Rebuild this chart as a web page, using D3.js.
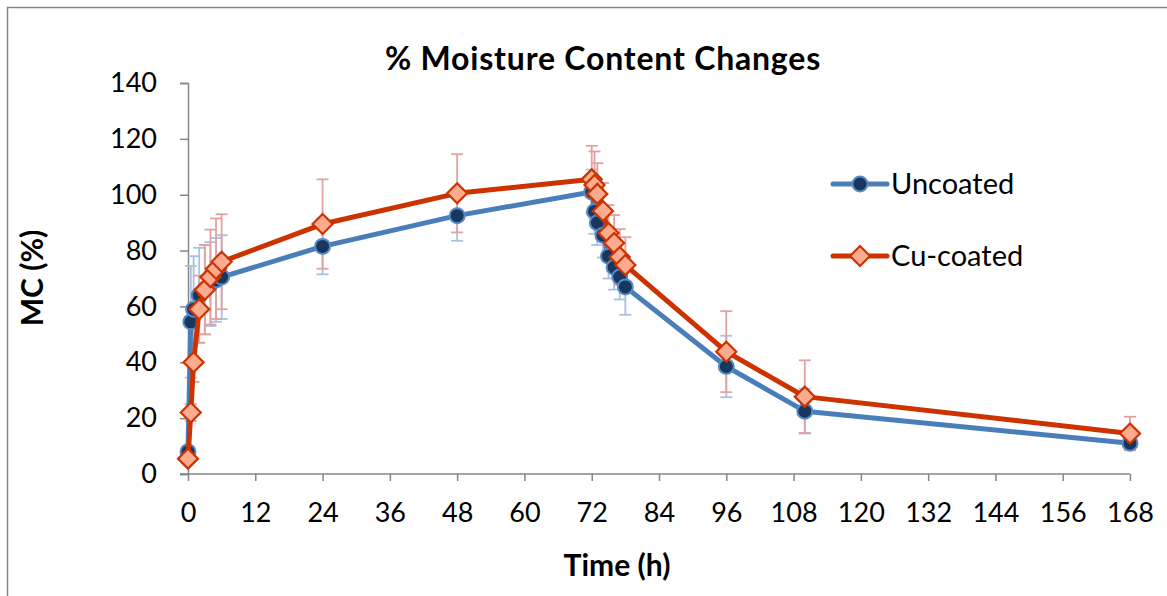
<!DOCTYPE html>
<html>
<head>
<meta charset="utf-8">
<script src="https://cdn.jsdelivr.net/npm/d3@7"></script>
<style>
  body { margin: 0; background: #fff; }
  svg { display: block; font-family: Lato, "Open Sans", sans-serif; }
</style>
</head>
<body>
<div id="chart"></div>
<script>
// time (h) for each point
const times = [0, 0.5, 1, 2, 3, 4, 5, 6, 24, 48, 72, 72.5, 73, 74, 75, 76, 77, 78, 96, 110, 168];
// % moisture content
const uncoated = [8, 54.5, 59, 64, 66, 68, 69.5, 70.5, 81.5, 92.5, 101, 94, 90, 85.5, 78, 74, 70.5, 67, 38.5, 22.5, 11];
const uncoatedErr = [1, 20, 19, 17, 16, 15, 15, 15, 10, 9, 8, 8, 8, 8, 8, 8, 8, 10, 11, 8, 1];
const cuCoated = [5.5, 22, 40, 59, 66, 70.5, 73.5, 76, 89.5, 100.5, 105.5, 103.5, 100.3, 94.2, 86.3, 82.7, 77.7, 74.8, 43.8, 27.7, 14.5];
const cuCoatedErr = [1, 3, 7, 12, 16, 17, 18, 17, 16, 14, 12, 12, 11, 10, 10, 10, 10, 10, 14.5, 13, 6];
const xTicks = [0, 12, 24, 36, 48, 60, 72, 84, 96, 108, 120, 132, 144, 156, 168];
const yTicks = [0, 20, 40, 60, 80, 100, 120, 140];

const W = 1167, H = 596;
const svg = d3.select('#chart').append('svg').attr('width', W).attr('height', H);

svg.append('rect')
   .attr('x', 7.5).attr('y', 7.5)
   .attr('width', 1300).attr('height', 800)
   .attr('fill', 'none').attr('stroke', '#868686').attr('stroke-width', 1.5);

const x = d3.scaleLinear().domain([0, 168]).range([188, 1130]);
const y = d3.scaleLinear().domain([0, 140]).range([474, 83]);

// axes
const gx = svg.append('g')
   .attr('transform', `translate(0, ${y(0)})`)
   .call(d3.axisBottom(x).tickValues(xTicks).tickSize(7).tickPadding(22).tickFormat(d3.format('d')));
const gy = svg.append('g')
   .attr('transform', `translate(${x(0)}, 0)`)
   .call(d3.axisLeft(y).tickValues(yTicks).tickSize(8).tickPadding(23).tickFormat(d3.format('d')));

[gx, gy].forEach(g => {
  g.select('.domain').attr('stroke', '#868686').attr('stroke-width', 1.5);
  g.selectAll('.tick line').attr('stroke', '#868686').attr('stroke-width', 1.5);
  g.selectAll('.tick text').attr('fill', '#000')
   .style('font-family', 'Lato, "Open Sans", sans-serif').style('font-size', '27px');
});
// x axis line starts at the y=0 tick
gx.select('.domain').attr('d', `M${x(0) - 8},0H${x(168)}`);

const series = [
  { name: 'Uncoated', vals: uncoated, err: uncoatedErr, line: '#4a7ebb', errColor: '#a9c1df',
    fill: '#17375e', stroke: '#5a8ac6', shape: 'circle' },
  { name: 'Cu-coated', vals: cuCoated, err: cuCoatedErr, line: '#cc3300', errColor: '#e3a2a2',
    fill: '#fdab8e', stroke: '#cc3300', shape: 'diamond' }
];

// error bars
series.forEach(s => {
  const g = svg.append('g').attr('stroke', s.errColor).attr('stroke-width', 1.8);
  times.forEach((t, i) => {
    const cx = x(t), top = y(s.vals[i] + s.err[i]), bot = y(s.vals[i] - s.err[i]);
    g.append('line').attr('x1', cx).attr('x2', cx).attr('y1', top).attr('y2', bot);
    g.append('line').attr('x1', cx - 6).attr('x2', cx + 6).attr('y1', top).attr('y2', top);
    g.append('line').attr('x1', cx - 6).attr('x2', cx + 6).attr('y1', bot).attr('y2', bot);
  });
});

const diamond = 'M0,-10L10,0L0,10L-10,0Z';

function marker(g, s, cx, cy) {
  if (s.shape === 'circle') {
    g.append('circle').attr('cx', cx).attr('cy', cy).attr('r', 7.5)
     .attr('fill', s.fill).attr('stroke', s.stroke).attr('stroke-width', 2);
  } else {
    g.append('path').attr('d', diamond).attr('transform', `translate(${cx},${cy})`)
     .attr('fill', s.fill).attr('stroke', s.stroke).attr('stroke-width', 2.2);
  }
}

// lines and markers
series.forEach(s => {
  const line = d3.line().x((d, i) => x(times[i])).y(d => y(d));
  svg.append('path').datum(s.vals).attr('d', line)
     .attr('fill', 'none').attr('stroke', s.line).attr('stroke-width', 5)
     .attr('stroke-linejoin', 'round');
  const g = svg.append('g');
  s.vals.forEach((v, i) => marker(g, s, x(times[i]), y(v)));
});

// legend
const legendY = [184, 256];
series.forEach((s, i) => {
  const ly = legendY[i];
  svg.append('line').attr('x1', 833).attr('x2', 887).attr('y1', ly).attr('y2', ly)
     .attr('stroke', s.line).attr('stroke-width', 5).attr('stroke-linecap', 'round');
  marker(svg, s, 860, ly);
  svg.append('text').attr('x', 891).attr('y', ly).attr('dy', '0.36em')
     .style('font-size', '29px').text(s.name);
});

// titles
svg.append('text').attr('x', 603).attr('y', 70).attr('text-anchor', 'middle')
   .style('font-size', '32px').style('font-weight', 'bold').style('letter-spacing', '0.8px')
   .text('% Moisture Content Changes');
svg.append('text').attr('x', 617).attr('y', 576).attr('text-anchor', 'middle')
   .style('font-size', '30px').style('font-weight', 'bold').text('Time (h)');
svg.append('text').attr('transform', 'translate(43, 278) rotate(-90)').attr('text-anchor', 'middle')
   .style('font-size', '30px').style('font-weight', 'bold').text('MC (%)');
</script>
</body>
</html>
